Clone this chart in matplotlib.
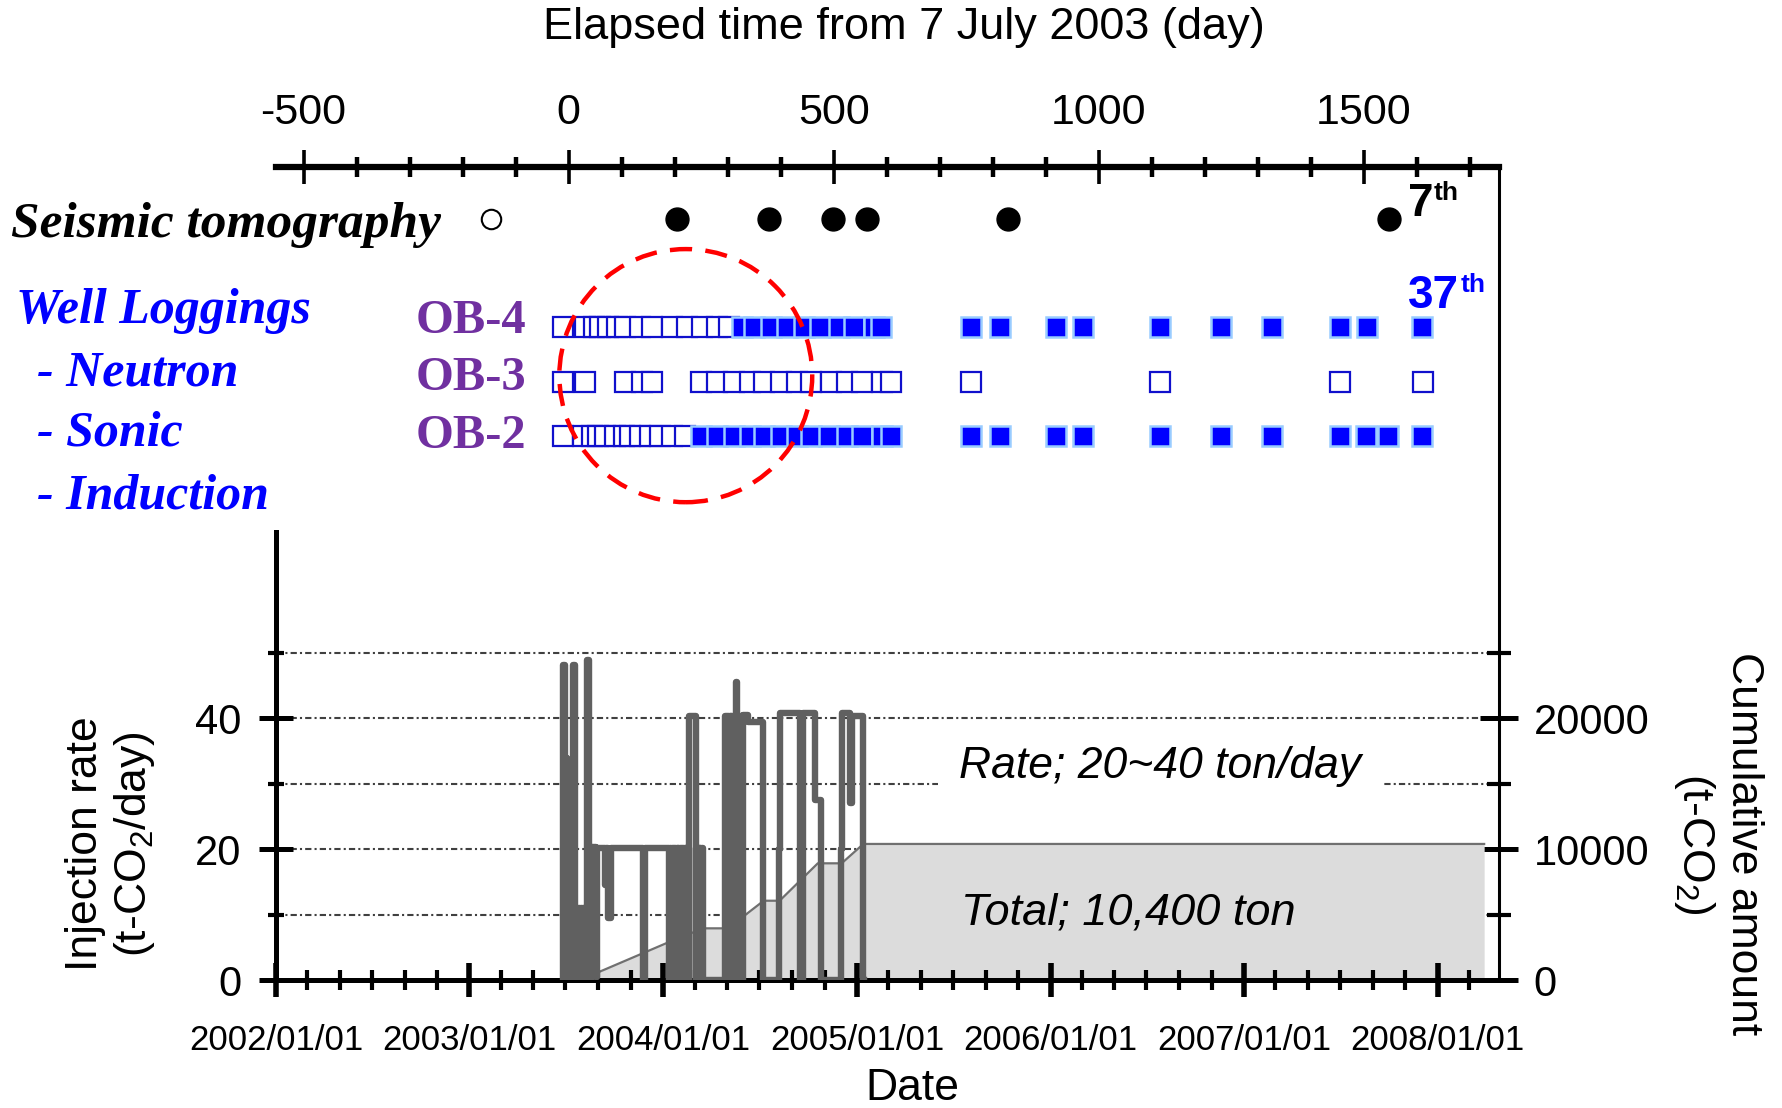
import numpy as np
import matplotlib
matplotlib.use("Agg")
import matplotlib.pyplot as plt
import matplotlib.dates as mdates
from matplotlib.patches import Ellipse
from matplotlib.ticker import FixedLocator, MultipleLocator

# elapsed days from 7 July 2003 for each survey
seismic_baseline_days = [-146]
seismic_days = [205, 378, 498, 562, 828, 1548]

ob4_open_days = [-11, 31, 47, 60, 75, 91, 107, 135, 157, 195, 223, 252, 280, 303]
ob4_fill_days = [327, 349, 381, 412, 444, 475, 510, 538, 576, 590,
                 759, 814, 920, 971, 1115, 1231, 1327, 1456, 1506, 1609]
ob3_open_days = [-11, 31, 107, 138, 157, 249, 280, 312, 343, 368, 400, 431,
                 457, 494, 526, 554, 592, 609, 759, 1115, 1456, 1612]
ob2_open_days = [-11, 28, 44, 56, 69, 88, 104, 116, 135, 154, 173, 195, 220]
ob2_fill_days = [249, 280, 312, 343, 368, 400, 431, 457, 491, 526, 554, 592, 609,
                 759, 814, 920, 971, 1115, 1231, 1327, 1456, 1505, 1545, 1609]

# injection rate (t-CO2/day), step changes at elapsed day
rate_days = [-11, -10, -6.5, -4, -2, -1, 0, 1, 2, 3, 4, 5, 6, 8, 12, 13, 14, 15, 16, 17,
             18, 19, 20, 21, 22, 23, 24, 25, 26, 27, 28, 29, 30, 31, 32, 33, 34, 38,
             39, 40, 41, 42, 52, 54, 68, 71, 75, 79, 141, 144,
             190, 192, 193.5, 195, 196.5, 198, 199.5, 201, 202.5, 204, 205.5, 207,
             208.5, 210, 211.5, 213, 214.5, 216, 217.5, 219, 220.5, 222, 223.5, 225,
             226.5, 228, 241, 242.5, 244, 245.5, 247, 248.5, 250, 251.5, 254,
             295, 296.5, 298, 299.5, 301, 302.5, 304, 305.5, 307, 308.5, 310, 311.5,
             313, 314.5, 316, 317.5, 319, 320.5, 322, 323.5, 325, 326.5, 328,
             338, 367, 396, 398, 436, 442, 464, 477, 514, 516, 531, 534, 556, 557]
rate_vals = [0, 48.2, 34, 25.5, 0, 11, 0, 10, 0, 11, 0, 10, 0, 48.2, 11, 0, 10, 0, 11, 0,
             10, 0, 11, 0, 10, 0, 11, 0, 10, 0, 11, 0, 10, 0, 11, 0, 48.9, 20.4,
             0, 20.4, 0, 20.4, 0.5, 20.2, 14.5, 20.2, 9.5, 20.2, 0, 20.2,
             0, 20.2, 0, 20.2, 0, 20.2, 0, 20.2, 0, 20.2, 0, 20.2,
             0, 20.2, 0, 20.2, 0, 20.2, 0, 20.2, 0, 20.2, 0, 20.2,
             0, 40.3, 0, 20.2, 0, 20.2, 0, 20.2, 0, 20.2, 0,
             40.3, 0, 40.3, 0, 40.3, 0, 40.3, 0, 40.3, 0, 40.3, 0,
             40.3, 0, 45.6, 0, 40.3, 0, 40.3, 0, 40.3, 0, 40.5,
             39.5, 0, 20, 40.8, 0, 40.8, 27.5, 0, 20, 40.8, 27, 40.3, 0, 0]

# cumulative injected amount (t-CO2)
cum_days = [-10, 45, 191, 254, 295, 329, 368, 398, 470, 515, 556, 1727]
cum_vals = [0, 400, 2930, 3950, 3950, 4840, 6060, 6060, 8920, 8920, 10400, 10400]

plt.rcParams['font.family'] = 'Liberation Sans'
plt.rcParams['axes.unicode_minus'] = False
plt.rcParams['mathtext.fontset'] = 'custom'
plt.rcParams['mathtext.rm'] = 'Liberation Sans'
plt.rcParams['mathtext.it'] = 'Liberation Sans:italic'
plt.rcParams['mathtext.bf'] = 'Liberation Sans:bold'

W, H = 1783, 1108


def fxy(x, y):
    return x / W, 1 - y / H


fig = plt.figure(figsize=(W / 100, H / 100), dpi=100)
ax = fig.add_axes([276 / W, 1 - 980 / H, 1223 / W, 813 / H])
cum = ax.twinx()
ax.set_zorder(cum.get_zorder() + 1)
ax.patch.set_visible(False)

start = mdates.date2num(np.datetime64('2003-07-07'))
ax.set_xlim(mdates.date2num(np.datetime64('2002-01-01')), start + 1755)
ax.set_ylim(0, 124.3)
cum.set_ylim(0, 124.3 * 500)

# cumulative amount
cx = start + np.array(cum_days)
cum.fill_between(cx, cum_vals, color='#DCDCDC', lw=0, zorder=2)
cum.plot(cx, cum_vals, color='#707070', lw=1.6, zorder=2.1)
cum.yaxis.set_major_locator(FixedLocator([0, 10000, 20000]))
cum.yaxis.set_minor_locator(FixedLocator([5000, 15000, 25000]))
cum.grid(True, which='both', axis='y', color='#404040', lw=1.5,
         linestyle=(0, (3, 1.5, 1, 1.5)))
cum.tick_params(axis='y', which='major', direction='inout', length=28, width=3.6,
                pad=11, labelsize=30)
cum.tick_params(axis='y', which='minor', direction='inout', length=17, width=3)
for side in ['left', 'top', 'bottom']:
    cum.spines[side].set_visible(False)
cum.spines['right'].set_linewidth(2.2)

# injection rate
ax.plot(start + np.array(rate_days), rate_vals, drawstyle='steps-post',
        color='#606060', lw=4.6, zorder=3)

ax.xaxis.set_major_locator(mdates.YearLocator())
ax.xaxis.set_major_formatter(mdates.DateFormatter('%Y/%m/%d'))
ax.xaxis.set_minor_locator(mdates.MonthLocator(bymonth=[1, 3, 5, 7, 9, 11]))
ax.yaxis.set_major_locator(FixedLocator([0, 20, 40]))
ax.yaxis.set_minor_locator(FixedLocator([10, 30, 50]))
ax.tick_params(axis='x', which='major', direction='inout', length=24, width=4,
               pad=20, labelsize=25)
ax.tick_params(axis='x', which='minor', direction='inout', length=14, width=3)
ax.tick_params(axis='y', which='major', direction='inout', length=24, width=3.6,
               pad=13, labelsize=30)
ax.tick_params(axis='y', which='minor', direction='inout', length=12, width=3)
ax.spines['top'].set_visible(False)
ax.spines['right'].set_visible(False)
ax.spines['left'].set_bounds(0, 68.5)
ax.spines['left'].set_linewidth(3.6)
ax.spines['bottom'].set_linewidth(3.6)

# elapsed-day axis on top
sec = ax.secondary_xaxis('top', functions=(lambda x: x - start, lambda d: d + start))
sec.xaxis.set_major_locator(MultipleLocator(500))
sec.xaxis.set_minor_locator(MultipleLocator(100))
sec.tick_params(which='major', direction='inout', length=25, width=2.6, pad=12, labelsize=31)
sec.tick_params(which='minor', direction='inout', length=15, width=3.2)
sec.spines['top'].set_linewidth(4.5)

# seismic surveys
ax.plot(start + np.array(seismic_baseline_days), np.full(len(seismic_baseline_days), 116.4),
        'o', ms=14, mfc='white', mec='black', mew=1.5, ls='none', zorder=4)
ax.plot(start + np.array(seismic_days), np.full(len(seismic_days), 116.4),
        'o', ms=16.5, color='black', ls='none', zorder=4)

# well loggings
open_style = dict(marker='s', ms=14.5, mfc='white', mec='#1010CC', mew=1.6, ls='none', zorder=4)
fill_style = dict(marker='s', ms=14.5, mfc='#0000FF', mec='#99CCFF', mew=1.8, ls='none', zorder=4)
ax.plot(start + np.array(ob4_open_days), np.full(len(ob4_open_days), 99.8), **open_style)
ax.plot(start + np.array(ob4_fill_days), np.full(len(ob4_fill_days), 99.8), **fill_style)
ax.plot(start + np.array(ob3_open_days), np.full(len(ob3_open_days), 91.4), **open_style)
ax.plot(start + np.array(ob2_open_days), np.full(len(ob2_open_days), 83.2), **open_style)
ax.plot(start + np.array(ob2_fill_days), np.full(len(ob2_fill_days), 83.2), **fill_style)

ax.add_patch(Ellipse((start + 221, 92.4), width=477, height=38.7, fill=False,
                     edgecolor='#FF0000', lw=3.2, linestyle=(0, (5, 3)), zorder=5))

# texts
fig.text(*fxy(904, 28), 'Elapsed time from 7 July 2003 (day)', ha='center', va='center',
         fontsize=32.5)
serif = dict(family='Liberation Serif', weight='bold', style='italic', fontsize=36,
             ha='left', va='baseline')
fig.text(*fxy(11, 237), 'Seismic tomography', color='black', fontsize=37,
         **{k: v for k, v in serif.items() if k != 'fontsize'})
fig.text(*fxy(16, 323), 'Well Loggings', color='#0000FF', **serif)
fig.text(*fxy(37, 385), '- Neutron', color='#0000FF', **serif)
fig.text(*fxy(37, 446), '- Sonic', color='#0000FF', **serif)
fig.text(*fxy(37, 508), '- Induction', color='#0000FF', **serif)
ob = dict(family='Liberation Serif', weight='bold', fontsize=35, color='#7030A0',
          ha='right', va='baseline')
fig.text(*fxy(526, 333), 'OB-4', **ob)
fig.text(*fxy(526, 390), 'OB-3', **ob)
fig.text(*fxy(526, 448), 'OB-2', **ob)

fig.text(*fxy(1408, 216), '7', fontsize=33, weight='bold', va='baseline')
fig.text(*fxy(1434, 200), 'th', fontsize=19, weight='bold', va='baseline')
fig.text(*fxy(1408, 308), '37', fontsize=33, weight='bold', va='baseline', color='#0000FF')
fig.text(*fxy(1461, 292), 'th', fontsize=19, weight='bold', va='baseline', color='#0000FF')

fig.text(*fxy(959, 778), 'Rate; 20~40 ton/day', fontsize=32, style='italic', va='baseline',
         bbox=dict(facecolor='white', edgecolor='none', pad=15))
fig.text(*fxy(961, 925), 'Total; 10,400 ton', fontsize=32.5, style='italic', va='baseline')

fig.text(*fxy(111, 844), 'Injection rate\n(t-CO$_2$/day)', rotation=90, ha='center',
         va='center', fontsize=32, linespacing=1.15)
fig.text(*fxy(1718, 844), 'Cumulative amount\n(t-CO$_2$)', rotation=270, ha='center',
         va='center', fontsize=32, linespacing=1.15)
fig.text(*fxy(912, 1088), 'Date', ha='center', va='center', fontsize=32)

fig.savefig('out.png', dpi=100)
